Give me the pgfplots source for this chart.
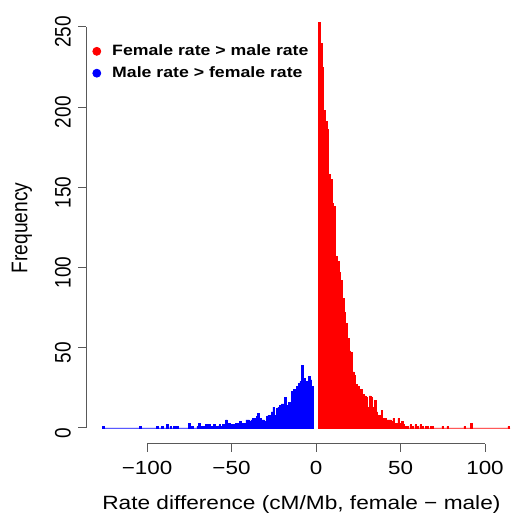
\documentclass[border=0pt]{standalone}
\usepackage{fontspec}
\setmainfont{Liberation Sans}
\usepackage{graphicx}
\usepackage{pgfplots}
\usepackage{pgfplotstable}
\pgfplotsset{compat=1.18}
\newcommand{\hs}[1]{\scalebox{1.18}[1]{#1}}
\newcommand{\vs}[1]{\scalebox{1}[1.18]{#1}}
\definecolor{Rred}{RGB}{255,0,0}
\definecolor{Rblue}{RGB}{0,0,255}

% left bin edge, count (last row closes the interval)
\pgfplotstableread{
x y
-126.5 1
-125.5 0
-104.5 1
-103.5 0
-94.5 1
-93.5 0
-91.5 1
-90.5 0
-88.5 2
-87.5 0
-86.5 1
-85.5 0
-84.5 1
-83.5 0
-82.5 1
-81.5 0
-75.5 3
-74.5 0
-73.5 1
-72.5 0
-70.5 1
-69.5 3
-68.5 1
-67.5 1
-66.5 1
-65.5 2
-64.5 1
-63.5 2
-62.5 1
-61.5 1
-60.5 2
-59.5 1
-58.5 1
-57.5 2
-56.5 1
-55.5 2
-54.5 1
-53.5 5
-52.5 3
-51.5 3
-50.5 2
-49.5 2
-48.5 2
-47.5 3
-46.5 3
-45.5 4
-44.5 3
-43.5 3
-42.5 3
-41.5 5
-40.5 5
-39.5 4
-38.5 5
-37.5 6
-36.5 6
-35.5 7
-34.5 9
-33.5 6
-32.5 5
-31.5 5
-30.5 4
-29.5 7
-28.5 8
-27.5 8
-26.5 10
-25.5 13
-24.5 8
-23.5 12
-22.5 13
-21.5 14
-20.5 15
-19.5 15
-18.5 19
-17.5 14
-16.5 16
-15.5 16
-14.5 23
-13.5 24
-12.5 24
-11.5 26
-10.5 28
-9.5 29
-8.5 39
-7.5 31
-6.5 25
-5.5 29
-4.5 32
-3.5 30
-2.5 26
-1.5 0
}\maleTable

\pgfplotstableread{
x y
1.5 253
2.5 240
3.5 225
4.5 198
5.5 191
6.5 186
7.5 158
8.5 155
9.5 140
10.5 138
11.5 107
12.5 104
13.5 97
14.5 92
15.5 81
16.5 72
17.5 65
18.5 56
19.5 48
20.5 47
21.5 35
22.5 33
23.5 27
24.5 26
25.5 24
26.5 24
27.5 21
28.5 20
29.5 19
30.5 13
31.5 20
32.5 19
33.5 13
34.5 17
35.5 10
36.5 8
37.5 8
38.5 11
39.5 6
40.5 6
41.5 5
42.5 5
43.5 5
44.5 4
45.5 6
46.5 3
47.5 3
48.5 6
49.5 3
50.5 4
51.5 2
52.5 1
53.5 1
54.5 0
55.5 2
56.5 1
57.5 0
58.5 2
59.5 1
60.5 0
61.5 2
62.5 1
63.5 0
64.5 1
65.5 1
66.5 0
67.5 1
68.5 1
69.5 0
74.5 1
75.5 0
77.5 1
78.5 0
87.5 1
88.5 0
91.5 3
92.5 0
113.5 1
114.5 0
115.5 0
}\femaleTable

\begin{document}
\begin{tikzpicture}
\begin{axis}[
  scale only axis, width=212pt, height=219pt,
  xmin=-136.1, xmax=114.8, ymin=-9.98, ymax=263.1,
  axis lines*=left,
  axis line style={draw=none},
  clip mode=individual,
  xtick={-100,-50,0,50,100},
  xticklabels={\hs{−100},\hs{−50},\hs{0},\hs{50},\hs{100}},
  ytick={0,50,100,150,200,250},
  yticklabels={\vs{0},\vs{50},\vs{100},\vs{150},\vs{200},\vs{250}},
  tick align=outside,
  major tick length=4pt,
  tick style={color=black!65, line width=0.5pt},
  ticklabel style={font=\fontsize{9.5}{11}\selectfont},
  yticklabel style={rotate=90, anchor=south, xshift=-2.5pt},
  xticklabel style={yshift=-1pt},
  xlabel={\hs{Rate difference (cM/Mb, female − male)}},
  ylabel={\vs{Frequency}},
  label style={font=\fontsize{9.6}{11}\selectfont},
  xlabel style={at={(axis description cs:0.508,-0.139)}, anchor=center},
  ylabel style={at={(axis description cs:-0.151,0.493)}, anchor=center},
  legend style={at={(axis description cs:0,1)}, anchor=north west,
    xshift=3pt, yshift=-18pt, draw=none, fill=none, inner sep=0pt,
    font=\fontsize{7.5}{9}\bfseries\selectfont, row sep=2pt,
    nodes={inner sep=1pt}},
  legend cell align=left,
]
\addplot[ybar interval, fill=Rblue, draw=Rblue, line width=0.3pt, forget plot] table[x=x,y=y] {\maleTable};
\addplot[ybar interval, fill=Rred, draw=Rred, line width=0.3pt, forget plot] table[x=x,y=y] {\femaleTable};
\addlegendimage{legend image code/.code={\fill[Rred] (2pt,0pt) circle (2pt); \path (8.5pt,0pt);}}
\addlegendentry{\hs{Female rate > male rate}}
\addlegendimage{legend image code/.code={\fill[Rblue] (2pt,0pt) circle (2pt); \path (8.5pt,0pt);}}
\addlegendentry{\hs{Male rate > female rate}}
\draw[black!65, line width=0.5pt] (axis cs:-100,-9.98) -- (axis cs:100,-9.98);
\draw[black!65, line width=0.5pt] (axis cs:-136.1,0) -- (axis cs:-136.1,250);
\end{axis}
\pgfresetboundingbox
\path[use as bounding box] ([xshift=-43pt,yshift=-38.5pt]current axis.south west) rectangle ([yshift=3pt]current axis.north east);
\end{tikzpicture}
\end{document}
